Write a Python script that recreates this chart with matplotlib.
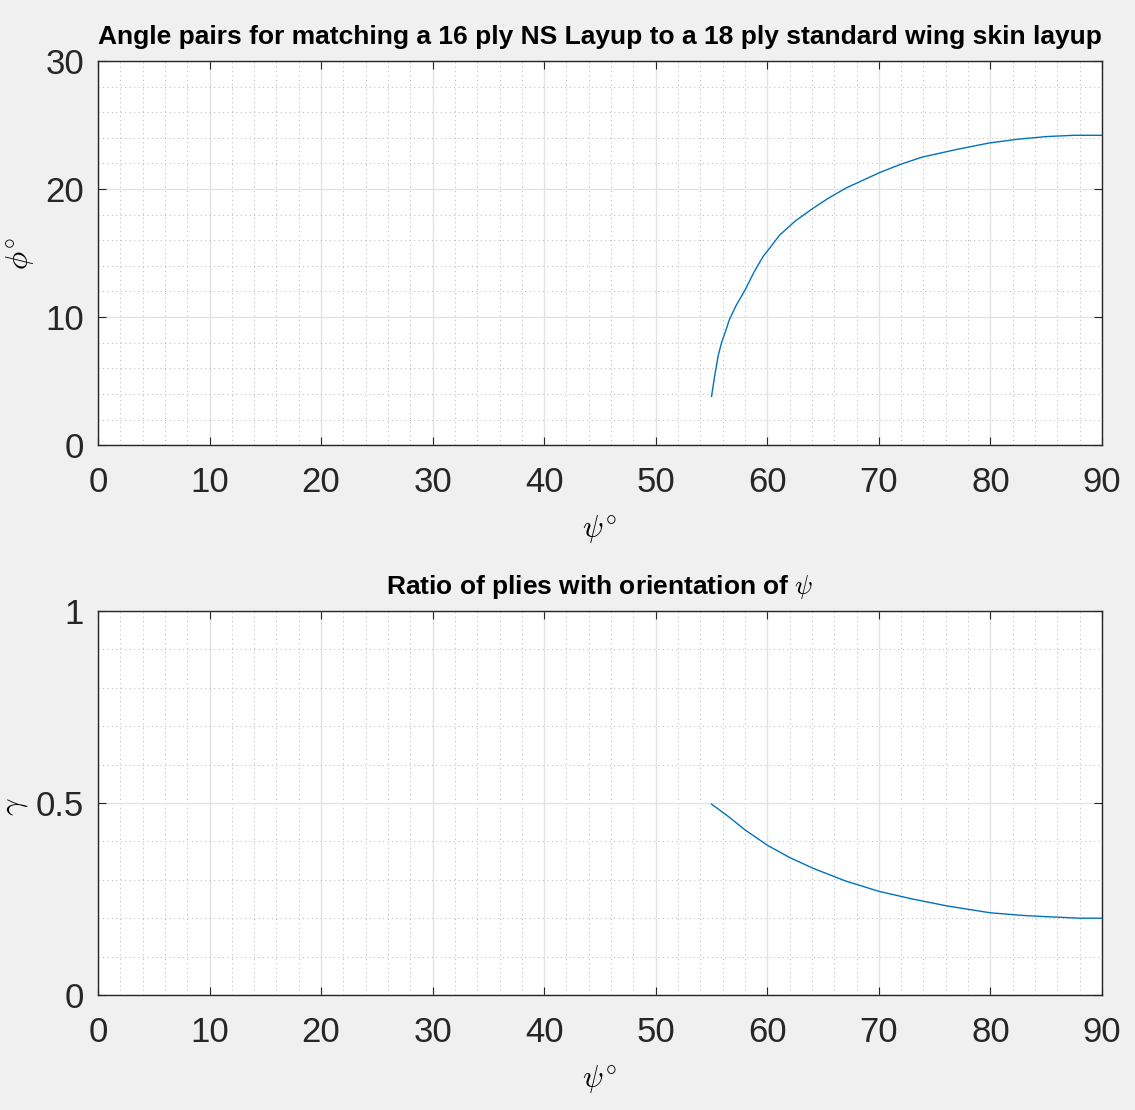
import matplotlib
matplotlib.use('Agg')
import matplotlib.pyplot as plt
from matplotlib.ticker import MultipleLocator

psi_top = [55.0, 55.3, 55.6, 55.9, 56.3, 56.6, 57.2, 58.0, 58.8, 59.6, 60.4, 61.1, 62.5, 64.1,
           65.5, 67.1, 68.6, 70.1, 72.0, 73.9, 77.0, 79.9, 82.5, 85.0, 87.5, 90.0]
phi_top = [3.8, 5.5, 7.0, 8.0, 9.0, 9.8, 10.9, 12.1, 13.5, 14.7, 15.6, 16.4, 17.5, 18.5,
           19.3, 20.1, 20.7, 21.3, 21.95, 22.5, 23.1, 23.6, 23.9, 24.1, 24.2, 24.2]

psi_bot = [55.0, 56.5, 58.0, 60.0, 62.0, 64.1, 67.0, 70.0, 73.0, 76.1, 80.0, 83.0, 85.0, 88.0, 90.0]
gamma_bot = [0.497, 0.465, 0.43, 0.39, 0.358, 0.33, 0.297, 0.27, 0.25, 0.232, 0.214, 0.207,
             0.204, 0.200, 0.200]

xticks = [0, 10, 20, 30, 40, 50, 60, 70, 80, 90]
gamma_ticks = [0, 0.5, 1]
gamma_labels = ['0', '0.5', '1']

plt.rcParams['font.family'] = ['Liberation Sans', 'DejaVu Sans']
plt.rcParams['mathtext.fontset'] = 'cm'

fig = plt.figure(figsize=(11.35, 11.10), dpi=100)
fig.patch.set_facecolor('#f0f0f0')

ax1 = fig.add_axes([0.0863, 0.599, 0.8846, 0.346])
ax2 = fig.add_axes([0.0863, 0.1036, 0.8846, 0.346])

def style(ax, ymax, yminor):
    ax.set_xlim(0, 90)
    ax.set_ylim(0, ymax)
    ax.set_xticks(xticks)
    ax.xaxis.set_minor_locator(MultipleLocator(2))
    ax.yaxis.set_minor_locator(MultipleLocator(yminor))
    ax.grid(which='major', color='#e3e3e3', linewidth=1.0, linestyle='-')
    ax.grid(which='minor', color='#c0c0c0', linewidth=0.8, linestyle=(0, (1, 3)))
    ax.set_axisbelow(True)
    ax.tick_params(which='major', direction='in', length=6, labelsize=25,
                   colors='#262626', top=True, right=True)
    ax.tick_params(axis='x', which='major', pad=15)
    ax.tick_params(axis='y', which='major', pad=10)
    ax.tick_params(which='minor', length=0)
    for s in ax.spines.values():
        s.set_color('#262626')
        s.set_linewidth(1.0)

ax1.plot(psi_top, phi_top, color='#0072BD', linewidth=1.0)
style(ax1, 30, 2)
ax1.set_yticks([0, 10, 20, 30])
ax1.set_title('Angle pairs for matching a 16 ply NS Layup to a 18 ply standard wing skin layup',
              fontsize=19, fontweight='bold', pad=12)
ax1.set_xlabel(r'$\psi^{\circ}$', fontsize=22, labelpad=10)
ax1.set_ylabel(r'$\phi^{\circ}$', fontsize=22)
ax1.yaxis.set_label_coords(-0.062, 0.5)

ax2.plot(psi_bot, gamma_bot, color='#0072BD', linewidth=1.0)
style(ax2, 1, 0.1)
ax2.set_yticks(gamma_ticks)
ax2.set_yticklabels(gamma_labels)
ax2.set_title(r'Ratio of plies with orientation of $\psi$',
              fontsize=19, fontweight='bold', pad=12)
ax2.set_xlabel(r'$\psi^{\circ}$', fontsize=22, labelpad=10)
ax2.set_ylabel(r'$\gamma$', fontsize=22)
ax2.yaxis.set_label_coords(-0.068, 0.49)

plt.savefig('out.png', dpi=100, facecolor=fig.get_facecolor())
plt.close()
